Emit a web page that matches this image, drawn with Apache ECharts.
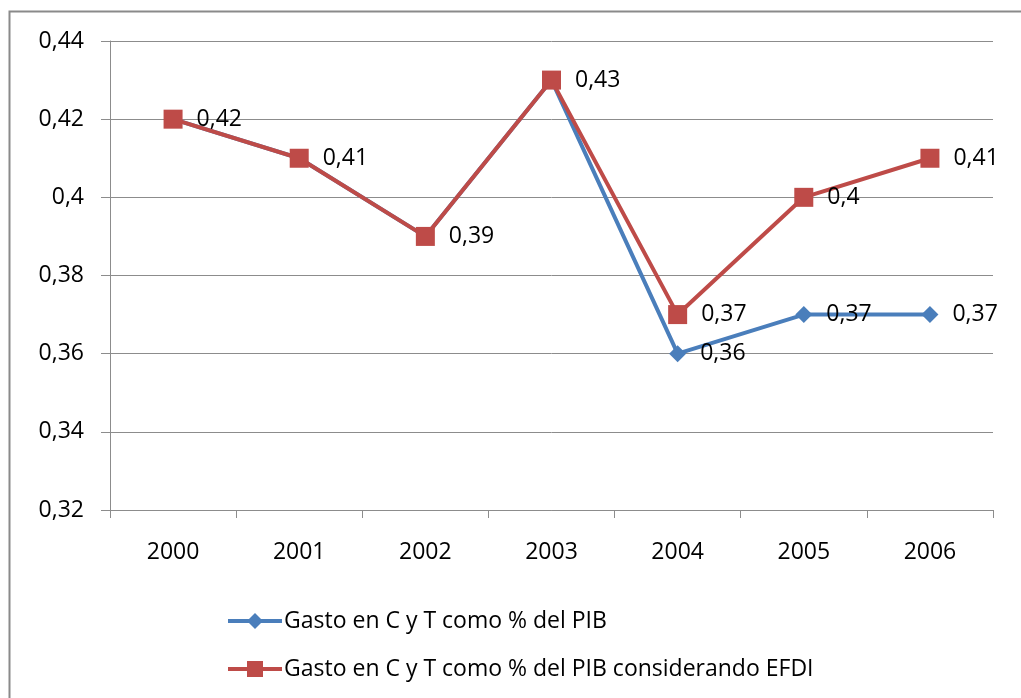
<!DOCTYPE html>
<html><head><meta charset="utf-8">
<script src="https://cdn.jsdelivr.net/npm/echarts@6/dist/echarts.min.js"></script>
<style>html,body{margin:0;padding:0;background:#fff}#c{width:1021px;height:698px}</style>
</head><body><div id="c"></div>
<script>
const categories = ['2000','2001','2002','2003','2004','2005','2006'];
const seriesNames = ['Gasto en C y T como % del PIB', 'Gasto en C y T como % del PIB considerando EFDI'];
const gastoPIB = [0.42, 0.41, 0.39, 0.43, 0.36, 0.37, 0.37];
const gastoEFDI = [0.42, 0.41, 0.39, 0.43, 0.37, 0.40, 0.41];
const yTicks = { min: 0.32, max: 0.44, interval: 0.02 };

const fmt = v => String(+(+v).toFixed(2)).replace('.', ',');
const FONT = '"Open Sans", "Noto Sans", sans-serif';
const FS = 23;
const labelStyle = { show: true, position: 'right', distance: 14, fontSize: FS, color: '#000', fontFamily: FONT, formatter: p => fmt(p.value) };

const blueData = gastoPIB.map((v, i) => ({ value: v, label: { show: v !== gastoEFDI[i] } }));

const chart = echarts.init(document.getElementById('c'));
chart.setOption({
  animation: false,
  graphic: [{ type: 'rect', left: 7, top: 9, shape: { width: 1100, height: 800 }, style: { fill: 'none', stroke: '#8a8a8a', lineWidth: 2 }, z: -1 }],
  grid: { left: 110, right: 28, top: 41, bottom: 188 },
  xAxis: {
    type: 'category', data: categories, boundaryGap: true,
    axisLine: { lineStyle: { color: '#8c8c8c', width: 1 } },
    axisTick: { show: true, length: 8, lineStyle: { color: '#8c8c8c' } },
    axisLabel: { fontSize: FS, color: '#000', fontFamily: FONT, margin: 31 }
  },
  yAxis: {
    type: 'value', min: yTicks.min, max: yTicks.max, interval: yTicks.interval,
    axisLine: { show: true, lineStyle: { color: '#8c8c8c', width: 1 } },
    axisTick: { show: true, length: 9, lineStyle: { color: '#8c8c8c' } },
    splitLine: { lineStyle: { color: '#8c8c8c', width: 1 } },
    axisLabel: { fontSize: FS, color: '#000', fontFamily: FONT, margin: 26, formatter: fmt }
  },
  legend: {
    orient: 'vertical', left: 221, top: 604, itemGap: 24, itemWidth: 54, itemHeight: 20,
    textStyle: { fontSize: FS, color: '#000', fontFamily: FONT, lineHeight: 24, padding: [0,0,0,-3] },
    lineStyle: { width: 4 },
    data: seriesNames
  },
  series: [
    { name: seriesNames[0], type: 'line', data: blueData, symbol: 'diamond', symbolSize: 17,
      lineStyle: { color: '#4A7EBB', width: 4 }, itemStyle: { color: '#4A7EBB' }, label: labelStyle },
    { name: seriesNames[1], type: 'line', data: gastoEFDI, symbol: 'rect', symbolSize: 19,
      lineStyle: { color: '#BE4B48', width: 4 }, itemStyle: { color: '#BE4B48' }, label: labelStyle }
  ]
});
</script></body></html>
